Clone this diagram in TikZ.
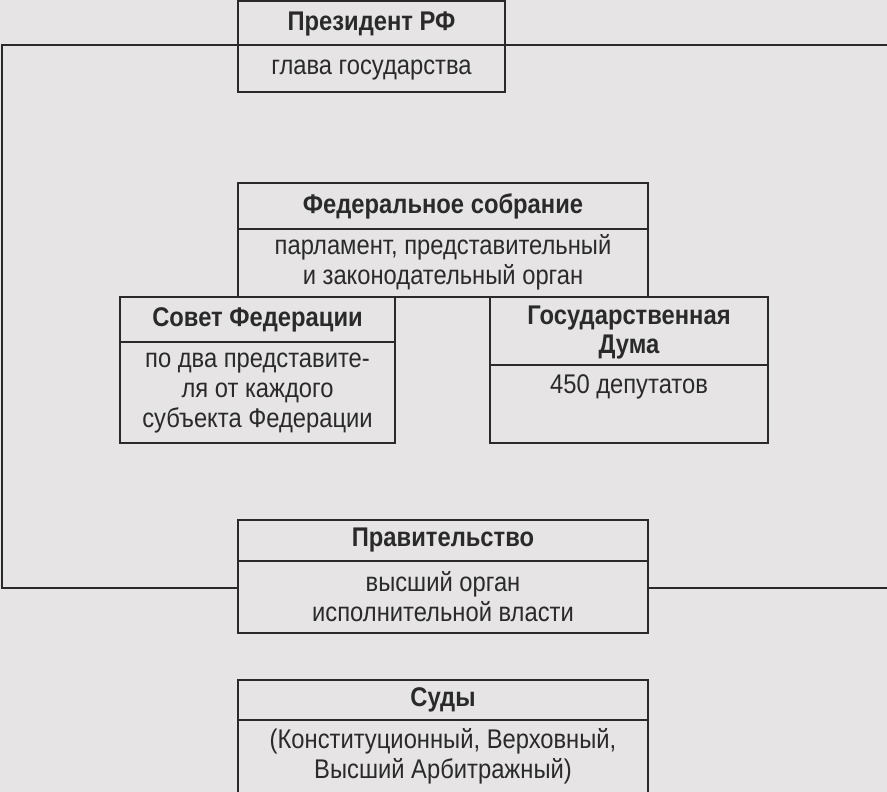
\documentclass[tikz,border=0pt]{standalone}
\usepackage{fontspec}
\setmainfont{Liberation Sans}[FakeStretch=0.88]
\definecolor{bg}{HTML}{E6E4E5}
\definecolor{ink}{HTML}{2A2A2A}
\begin{document}
\begin{tikzpicture}[x=1pt,y=-1pt,
  frame/.style={draw=ink,line width=1.6pt,fill=bg},
  ttl/.style={font=\fontsize{27}{28}\selectfont\bfseries,text=ink,align=center,inner sep=0pt},
  txt/.style={font=\fontsize{27}{30}\selectfont,text=ink,align=center,inner sep=0pt}]
\fill[bg] (0,0) rectangle (887,792);
\useasboundingbox (0,0) rectangle (887,792);
% big frame behind
\draw[ink,line width=1.6pt] (890,45) -- (2,45) -- (2,588) -- (890,588);
% President
\draw[frame] (238,1) rectangle (505,92); \draw[ink,line width=1.6pt] (238,45)--(505,45);
\node[ttl] (p1) at (371.5,24) {Президент РФ};
\node[txt] (p2) at (371.5,70) {глава государства};
% Federal assembly
\draw[frame] (238,183) rectangle (648,297); \draw[ink,line width=1.6pt] (238,229)--(648,229);
\node[ttl] (f1) at (443,206) {Федеральное собрание};
\node[txt] (f2) at (443,262) {парламент, представительный\\и законодательный орган};
% Sovet
\draw[frame] (120,297) rectangle (395,443); \draw[ink,line width=1.6pt] (120,342)--(395,342);
\node[ttl] (s1) at (257.5,320) {Совет Федерации};
\node[txt] (s2) at (257.5,393) {по два представите-\\ля от каждого\\субъекта Федерации};
% Duma
\draw[frame] (490,297) rectangle (768,443); \draw[ink,line width=1.6pt] (490,365)--(768,365);
\node[ttl,font=\fontsize{27}{29}\selectfont\bfseries] (d1) at (629,333) {Государственная\\Дума};
\node[txt] (d2) at (629,387) {450 депутатов};
% Government
\draw[frame] (238,520) rectangle (648,633); \draw[ink,line width=1.6pt] (238,561)--(648,561);
\node[ttl] (g1) at (443,540) {Правительство};
\node[txt] (g2) at (443,597) {высший орган\\исполнительной власти};
% Courts
\draw[frame] (238,680) rectangle (648,795); \draw[ink,line width=1.6pt] (238,720)--(648,720);
\node[ttl] (c1) at (443,700) {Суды};
\node[txt] (c2) at (443,756) {(Конституционный, Верховный,\\Высший Арбитражный)};
\end{tikzpicture}
\end{document}
